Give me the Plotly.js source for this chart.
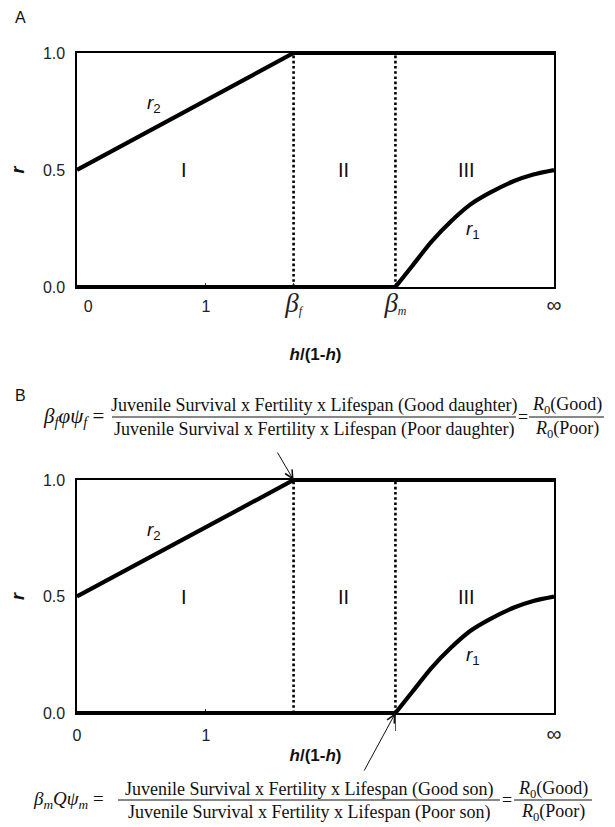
<!DOCTYPE html>
<html>
<head>
<meta charset="utf-8">
<script src="https://cdn.plot.ly/plotly-3.0.1.min.js"></script>
<style>html,body{margin:0;padding:0;background:#fff;}</style>
</head>
<body>
<div id="chart" style="width:615px;height:827px;"></div>
<script>
// ---- data (x axis: 0 .. "∞" mapped to 0 .. 3.7) ----
const betaPos = [1.68, 2.47];          // β_f, β_m positions on h/(1-h) axis
const infPos = 3.7;                    // position drawn as "∞"
const r2_x = [0, 1.68, 3.7];
const r2_y = [0.5, 1.0, 1.0];
const r1_x = [0, 2.47, 2.6, 2.75, 2.9, 3.05, 3.2, 3.39, 3.54, 3.7];
const r1_y = [0, 0, 0.09, 0.194, 0.28, 0.352, 0.402, 0.453, 0.481, 0.5];
const dot_y = [0, 1];
const yTickVals = [0, 0.5, 1];
const yTickText = ['0.0', '0.5', '1.0'];
const xTickValsA = [0, 1, 1.68, 2.47, 3.7];
const xTickTextA = ['\u00a0\u00a0\u00a0\u00a0\u00a00', '1',
  '<span style="font-family:Liberation Serif;font-size:27px"><i>β</i></span><span style="font-family:Liberation Serif;font-size:17px"><sub><i>f</i></sub></span>',
  '<span style="font-family:Liberation Serif;font-size:27px"><i>β</i></span><span style="font-family:Liberation Serif;font-size:17px"><sub><i>m</i></sub></span>',
  '<span style="font-size:21px">∞</span>'];
const xTickValsB = [0, 1, 3.7];
const xTickTextB = ['0', '1', '<span style="font-size:21px">∞</span>'];
const regionLabels = ['I', 'II', 'III'];

const W = 615, H = 827;
const px = p => p / W;
const py = p => 1 - p / H;

function panelTraces(xa, ya) {
  const t = [];
  const thick = {color: '#000', width: 4.2, simplify: false};
  // dotted verticals
  betaPos.forEach(b => t.push({x: [b, b], y: dot_y, xaxis: xa, yaxis: ya, mode: 'lines',
    line: {color: '#000', width: 2.6, dash: '2.6px,2.6px'}, cliponaxis: false, hoverinfo: 'skip'}));
  // r2
  t.push({x: r2_x, y: r2_y, xaxis: xa, yaxis: ya, mode: 'lines', line: thick, cliponaxis: false});
  // r1: flat part, then smooth rise
  t.push({x: r1_x.slice(0, 2), y: r1_y.slice(0, 2), xaxis: xa, yaxis: ya, mode: 'lines', line: thick, cliponaxis: false});
  t.push({x: r1_x.slice(1), y: r1_y.slice(1), xaxis: xa, yaxis: ya, mode: 'lines',
    line: {color: '#000', width: 4.2, shape: 'spline', smoothing: 0.8}, cliponaxis: false});
  return t;
}

const traces = panelTraces('x', 'y').concat(panelTraces('x2', 'y2'));

const axisCommon = {
  showline: true, mirror: true, linecolor: '#000', linewidth: 1.6,
  showgrid: false, zeroline: false, fixedrange: true, layer: 'below traces'
};
const xDom = [px(77), px(554)];
const yDomA = [py(287), py(53)];
const yDomB = [py(713), py(480)];
const xTitleText = '<b><i>h</i>/(1-<i>h</i>)</b>';
const tickFont = {family: 'Liberation Sans, Arial', size: 16, color: '#222'};

const layout = {
  width: W, height: H,
  margin: {l: 0, r: 0, t: 0, b: 0},
  paper_bgcolor: '#fff', plot_bgcolor: '#fff',
  showlegend: false,
  font: {family: 'Liberation Sans, Arial', size: 16, color: '#111'},
  xaxis: Object.assign({}, axisCommon, {
    domain: xDom, anchor: 'y', range: [0, infPos],
    tickmode: 'array', tickvals: xTickValsA, ticktext: xTickTextA,
    ticks: 'inside', ticklen: 4, tickwidth: 1, tickcolor: '#333',
    tickfont: tickFont, ticklabelstandoff: 4,
    title: {text: xTitleText, font: {size: 17, color: '#111'}, standoff: 31}
  }),
  yaxis: Object.assign({}, axisCommon, {
    domain: yDomA, anchor: 'x', range: [0, 1],
    tickmode: 'array', tickvals: yTickVals, ticktext: yTickText,
    ticks: '', tickfont: tickFont, ticklabelstandoff: 7,
    title: {text: '<b><i>r</i></b>', font: {size: 18, color: '#111'}, standoff: 13}
  }),
  xaxis2: Object.assign({}, axisCommon, {
    domain: xDom, anchor: 'y2', range: [0, infPos],
    tickmode: 'array', tickvals: xTickValsB, ticktext: xTickTextB,
    ticks: 'inside', ticklen: 4, tickwidth: 1, tickcolor: '#333',
    minor: {tickmode: 'array', tickvals: [betaPos[1]], ticks: 'outside', ticklen: 16, tickwidth: 1, tickcolor: '#555'},
    tickfont: tickFont, ticklabelstandoff: 7,
    title: {text: xTitleText, font: {size: 17, color: '#111'}, standoff: 5}
  }),
  yaxis2: Object.assign({}, axisCommon, {
    domain: yDomB, anchor: 'x2', range: [0, 1],
    tickmode: 'array', tickvals: yTickVals, ticktext: yTickText,
    ticks: '', tickfont: tickFont, ticklabelstandoff: 7,
    title: {text: '<b><i>r</i></b>', font: {size: 18, color: '#111'}, standoff: 13}
  }),
  annotations: [],
  shapes: []
};

const A = layout.annotations;
const S = layout.shapes;
const serif = 'Liberation Serif, Times New Roman';

// panel letters
A.push({text: 'A', xref: 'paper', yref: 'paper', x: px(20), y: py(18), xanchor: 'center', yanchor: 'middle', showarrow: false, font: {size: 16, color: '#111'}});
A.push({text: 'B', xref: 'paper', yref: 'paper', x: px(20), y: py(395), xanchor: 'center', yanchor: 'middle', showarrow: false, font: {size: 16, color: '#111'}});

// region labels & curve labels for both panels
const regionX = [0.83, 2.07, 3.02];
[['x', 'y'], ['x2', 'y2']].forEach(([xa, ya]) => {
  regionLabels.forEach((lab, i) => A.push({text: lab, xref: xa, yref: ya, x: regionX[i], y: 0.5,
    xanchor: 'center', yanchor: 'middle', showarrow: false, font: {size: 20, color: '#111'}}));
  A.push({text: '<i>r</i><sub>2</sub>', xref: xa, yref: ya, x: 0.6, y: 0.78, xanchor: 'center', yanchor: 'middle', showarrow: false, font: {size: 19, color: '#111'}});
  A.push({text: '<i>r</i><sub>1</sub>', xref: xa, yref: ya, x: 3.07, y: 0.245, xanchor: 'center', yanchor: 'middle', showarrow: false, font: {size: 19, color: '#111'}});
});

// arrows in panel B
A.push({text: '', xref: 'x2', yref: 'y2', x: betaPos[0], y: 1, ax: -17, ay: -29,
  showarrow: true, arrowhead: 5, arrowsize: 1.6, arrowwidth: 1, arrowcolor: '#111', standoff: 0});
A.push({text: '', xref: 'x2', yref: 'y2', x: betaPos[1], y: 0, ax: -32, ay: 59,
  showarrow: true, arrowhead: 5, arrowsize: 1.6, arrowwidth: 1, arrowcolor: '#111', standoff: 0});

// formulas
function formula(lhs, lhsSize, num, den, yLine, lhsRight, fx0, fx1, eqX, rx0, rx1) {
  const f = {family: serif, size: 18, color: '#111'};
  const base = {xref: 'paper', yref: 'paper', xanchor: 'center', yanchor: 'middle', showarrow: false, font: f};
  A.push(Object.assign({}, base, {text: lhs, x: px(lhsRight), y: py(yLine), xanchor: 'right', font: {family: serif, size: lhsSize, color: '#111'}}));
  A.push(Object.assign({}, base, {text: num, x: px((fx0 + fx1) / 2), y: py(yLine - 11)}));
  A.push(Object.assign({}, base, {text: den, x: px((fx0 + fx1) / 2), y: py(yLine + 12)}));
  S.push({type: 'line', xref: 'paper', yref: 'paper', x0: px(fx0), x1: px(fx1), y0: py(yLine), y1: py(yLine), line: {color: '#111', width: 1}});
  A.push(Object.assign({}, base, {text: '=', x: px(eqX), y: py(yLine)}));
  A.push(Object.assign({}, base, {text: '<i>R</i><sub>0</sub>(Good)', x: px((rx0 + rx1) / 2), y: py(yLine - 11)}));
  A.push(Object.assign({}, base, {text: '<i>R</i><sub>0</sub>(Poor)', x: px((rx0 + rx1) / 2), y: py(yLine + 12)}));
  S.push({type: 'line', xref: 'paper', yref: 'paper', x0: px(rx0), x1: px(rx1), y0: py(yLine), y1: py(yLine), line: {color: '#111', width: 1}});
}
formula('<i>β<sub>f</sub>φψ<sub>f</sub></i> =', 21,
  'Juvenile Survival x Fertility x Lifespan (Good daughter)',
  'Juvenile Survival x Fertility x Lifespan (Poor daughter)',
  417, 106, 112, 516, 522.5, 529, 604);
formula('<i>β<sub>m</sub>Qψ<sub>m</sub></i> =', 19,
  'Juvenile Survival x Fertility x Lifespan (Good son)',
  'Juvenile Survival x Fertility x Lifespan (Poor son)',
  800, 106, 118, 500, 506.5, 514, 592);

Plotly.newPlot('chart', traces, layout, {displayModeBar: false, staticPlot: true});
</script>
</body>
</html>
